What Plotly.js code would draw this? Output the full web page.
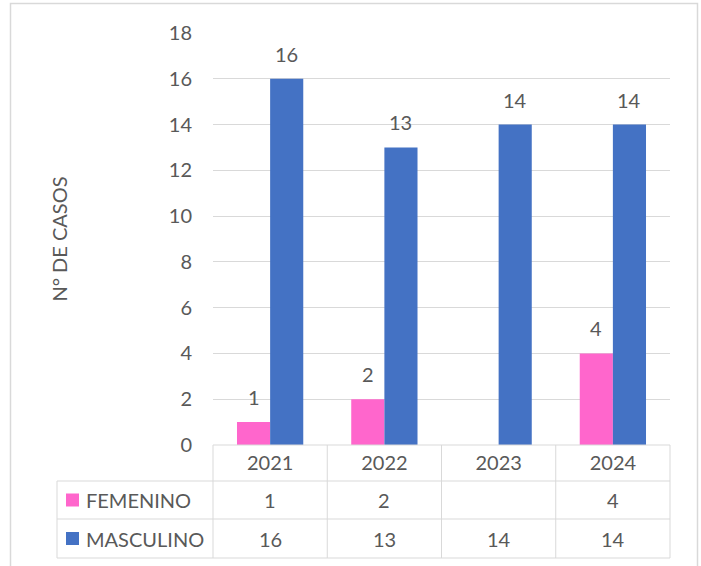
<!DOCTYPE html>
<html>
<head>
<meta charset="utf-8">
<script src="https://cdn.plot.ly/plotly-3.0.1.min.js"></script>
<style>html,body{margin:0;padding:0;background:#fff;}</style>
</head>
<body>
<div id="chart" style="width:701px;height:566px;"></div>
<script>
const years = ['2021', '2022', '2023', '2024'];
const femenino = [1, 2, null, 4];
const masculino = [16, 13, 14, 14];
const seriesNames = ['FEMENINO', 'MASCULINO'];
const seriesColors = ['#FF66CC', '#4472C4'];
const yTitle = 'N° DE CASOS';

const FONT = 'Lato, "Open Sans", sans-serif';
const TXT = '#595959';
const GRID = '#d9d9d9';
const FS = 20;
const BARGAP = 0.42;

const series = [femenino, masculino];
const traces = series.map((vals, k) => ({
  type: 'bar', x: years, y: vals, name: seriesNames[k],
  marker: {color: seriesColors[k]}, showlegend: false, hoverinfo: 'x+y'
}));

// geometry helpers (paper units relative to plot area)
const W = 701, H = 566, ML = 213, MR = 31, MT = 33, MB = 121;
const pw = W - ML - MR, ph = H - MT - MB;
const px2x = p => (p - ML) / pw;
const py2y = p => (H - MB - p) / ph;

const rowTops = [445, 481, 519, 558];
const labelLeft = 57;

const shapes = [];
const line = {color: GRID, width: 1};
// horizontal table lines
shapes.push({type: 'line', xref: 'paper', yref: 'paper', x0: 0, x1: 1, y0: 0, y1: 0, line});
for (let r = 1; r < rowTops.length; r++) {
  shapes.push({type: 'line', xref: 'paper', yref: 'paper', x0: px2x(labelLeft), x1: 1,
    y0: py2y(rowTops[r]), y1: py2y(rowTops[r]), line});
}
// vertical table lines at category boundaries
for (let i = 0; i <= years.length; i++) {
  shapes.push({type: 'line', xref: 'paper', yref: 'paper', x0: i / years.length, x1: i / years.length,
    y0: 0, y1: py2y(rowTops[rowTops.length - 1]), line});
}
shapes.push({type: 'line', xref: 'paper', yref: 'paper', x0: px2x(labelLeft), x1: px2x(labelLeft),
  y0: py2y(rowTops[1]), y1: py2y(rowTops[3]), line});
// outer chart border
shapes.push({type: 'rect', xref: 'paper', yref: 'paper', x0: px2x(10.5), x1: px2x(697.5),
  y0: py2y(575), y1: py2y(3.5), line: {color: GRID, width: 1.5}});

const annotations = [];
// data labels above bars
const halfBar = (1 - BARGAP) / 4; // offset in category units
series.forEach((vals, k) => {
  vals.forEach((v, i) => {
    if (v === null) return;
    annotations.push({xref: 'x', yref: 'y', x: i + (k === 0 ? -halfBar : halfBar), y: v,
      text: String(v), showarrow: false, yanchor: 'bottom', yshift: 11,
      font: {family: FONT, size: FS, color: TXT}});
  });
});
// table rows: legend keys, names, values
series.forEach((vals, k) => {
  const yc = py2y((rowTops[k + 1] + rowTops[k + 2]) / 2);
  shapes.push({type: 'rect', xref: 'paper', yref: 'paper', x0: px2x(66), x1: px2x(79),
    y0: yc - 6.5 / ph, y1: yc + 6.5 / ph, fillcolor: seriesColors[k], line: {width: 0}});
  annotations.push({xref: 'paper', yref: 'paper', x: px2x(84), y: yc, xanchor: 'left', yanchor: 'middle',
    text: seriesNames[k], showarrow: false, font: {family: FONT, size: FS, color: TXT}});
  vals.forEach((v, i) => {
    if (v === null) return;
    annotations.push({xref: 'x', yref: 'paper', x: i, y: yc, xanchor: 'center', yanchor: 'middle',
      text: String(v), showarrow: false, font: {family: FONT, size: FS, color: TXT}});
  });
});

const layout = {
  width: W, height: H,
  margin: {l: ML, r: MR, t: MT, b: MB, pad: 0},
  paper_bgcolor: '#fff', plot_bgcolor: '#fff',
  barmode: 'group', bargap: BARGAP, bargroupgap: 0,
  font: {family: FONT, size: FS, color: TXT},
  xaxis: {type: 'category', showgrid: false, showline: false, zeroline: false, ticks: '',
    tickfont: {family: FONT, size: FS, color: TXT}, ticklabelstandoff: 4, fixedrange: true},
  yaxis: {range: [0, 18], dtick: 2, showgrid: true, gridcolor: GRID, gridwidth: 1,
    zeroline: false, showline: false, ticks: '', ticklabelstandoff: 20,
    tickfont: {family: FONT, size: FS, color: TXT}, automargin: false,
    title: {text: yTitle, font: {family: FONT, size: FS, color: TXT}, standoff: 95}, fixedrange: true},
  shapes, annotations
};

Plotly.newPlot('chart', traces, layout, {displayModeBar: false, staticPlot: true});
</script>
</body>
</html>
